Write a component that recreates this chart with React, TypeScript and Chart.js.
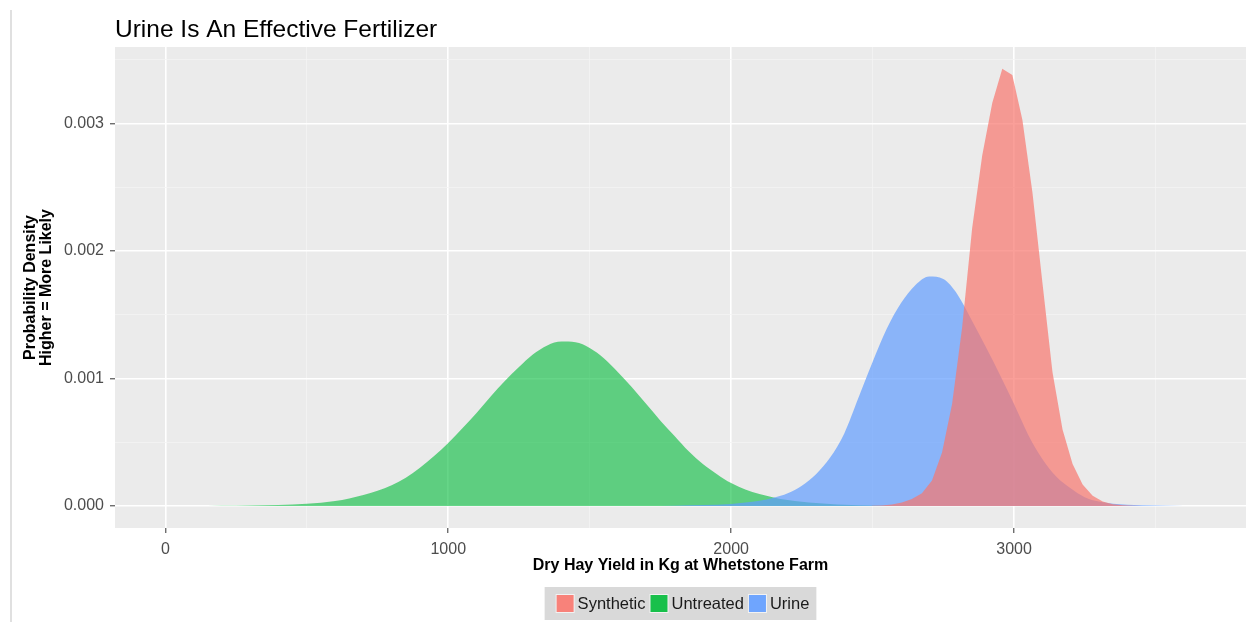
import React, { useEffect, useRef } from 'react';
import { Chart, registerables } from 'chart.js';

Chart.register(...registerables);

const chartTitle = 'Urine Is An Effective Fertilizer';
const xAxisTitle = 'Dry Hay Yield in Kg at Whetstone Farm';
const yAxisTitle = ['Probability Density', 'Higher = More Likely'];
const seriesNames = ['Synthetic', 'Untreated', 'Urine'];
const seriesColors = ['#F8766D', '#00BA38', '#619CFF'];

const xGridValues = [0, 500, 1000, 1500, 2000, 2500, 3000, 3500];
const xTickValues = [0, 1000, 2000, 3000];
const xTickLabels = ['0', '1000', '2000', '3000'];
const yGridValues = [0, 0.0005, 0.001, 0.0015, 0.002, 0.0025, 0.003, 0.0035];
const yTickValues = [0, 0.001, 0.002, 0.003];
const yTickLabels = ['0.000', '0.001', '0.002', '0.003'];

const syntheticX = [2497, 2532.5, 2568, 2603.5, 2639, 2674.5, 2710, 2745.5, 2781, 2816.5, 2852, 2887.5, 2923, 2958.5, 2994, 3029.5, 3065, 3100.5, 3136, 3171.5, 3207, 3242.5, 3278, 3313.5, 3349, 3384.5, 3420, 3455.5];
const syntheticY = [0.000002, 0.000005, 0.000012, 0.000028, 0.000055, 0.0001, 0.0002, 0.00042, 0.0008, 0.0014, 0.00218, 0.00275, 0.00316, 0.00343, 0.00338, 0.00303, 0.00246, 0.00175, 0.00105, 0.0006, 0.00033, 0.00017, 0.00008, 0.000035, 0.000015, 0.000006, 0.000002, 0];

const untreatedX = [100, 200, 300, 400, 500, 600, 650, 700, 750, 800, 850, 900, 950, 1000, 1050, 1100, 1150, 1200, 1250, 1300, 1350, 1400, 1450, 1500, 1550, 1600, 1650, 1700, 1750, 1800, 1850, 1900, 1950, 2000, 2050, 2100, 2150, 2200, 2250, 2300, 2350, 2400, 2500, 2600, 2700];
const untreatedY = [0, 0.000002, 0.000004, 0.000008, 0.000018, 0.00004, 0.00006, 0.000087, 0.00012, 0.000163, 0.000223, 0.0003, 0.000392, 0.000495, 0.00061, 0.00073, 0.00086, 0.00098, 0.00109, 0.00119, 0.00126, 0.00129, 0.001285, 0.00124, 0.00116, 0.00105, 0.00093, 0.0008, 0.00067, 0.00055, 0.00043, 0.00033, 0.00025, 0.00018, 0.00013, 0.000095, 0.000068, 0.000048, 0.000034, 0.000024, 0.000017, 0.000011, 0.000005, 0.000002, 0];

const urineX = [1700, 1800, 1900, 2000, 2050, 2100, 2150, 2200, 2250, 2300, 2350, 2400, 2450, 2500, 2550, 2600, 2650, 2700, 2750, 2800, 2850, 2900, 2950, 3000, 3050, 3100, 3150, 3200, 3250, 3300, 3350, 3400, 3500, 3600, 3700];
const urineY = [0, 0.000003, 0.000008, 0.000017, 0.000027, 0.000042, 0.000065, 0.0001, 0.00016, 0.00025, 0.00038, 0.00057, 0.00085, 0.00113, 0.00139, 0.00159, 0.00173, 0.0018, 0.00178, 0.00166, 0.00146, 0.00125, 0.00103, 0.0008, 0.00056, 0.00037, 0.00023, 0.00014, 0.00007, 0.000035, 0.000018, 0.00001, 0.000004, 0.000001, 0];

const xMin = -178;
const xMax = 3820;
const yMin = -0.000172;
const yMax = 0.0036;

const FONT = '"Liberation Sans", Arial, Helvetica, sans-serif';

function rgba(hex: string, a: number) {
  const n = parseInt(hex.slice(1), 16);
  return `rgba(${(n >> 16) & 255},${(n >> 8) & 255},${n & 255},${a})`;
}

function majorIndex(values: number[], v: number, tol: number) {
  return values.findIndex((t) => Math.abs(t - v) < tol);
}

const decorPlugin = {
  id: 'decor',
  beforeDraw(chart: any) {
    const { ctx, chartArea: a } = chart;
    ctx.save();
    ctx.fillStyle = '#FFFFFF';
    ctx.fillRect(0, 0, chart.width, chart.height);
    ctx.fillStyle = '#EBEBEB';
    ctx.fillRect(a.left, a.top, a.right - a.left, a.bottom - a.top);
    ctx.strokeStyle = '#D6D6D6';
    ctx.lineWidth = 1.5;
    ctx.beginPath();
    ctx.moveTo(11, 10);
    ctx.lineTo(11, chart.height);
    ctx.stroke();
    ctx.restore();
  },
  afterDraw(chart: any) {
    const { ctx, chartArea: a } = chart;
    const cx = (a.left + a.right) / 2;
    const cy = (a.top + a.bottom) / 2;
    ctx.save();
    ctx.fillStyle = '#000000';
    ctx.font = `24.5px ${FONT}`;
    ctx.textAlign = 'left';
    ctx.textBaseline = 'alphabetic';
    ctx.fillText(chartTitle, a.left, 37);
    ctx.font = `bold 16px ${FONT}`;
    ctx.textAlign = 'center';
    ctx.textBaseline = 'middle';
    ctx.fillText(xAxisTitle, cx, 566);
    ctx.save();
    ctx.translate(31, cy);
    ctx.rotate(-Math.PI / 2);
    ctx.fillText(yAxisTitle[0], 0, 0);
    ctx.fillText(yAxisTitle[1], 0, 16);
    ctx.restore();
    ctx.font = `16.5px ${FONT}`;
    const widths = seriesNames.map((n) => ctx.measureText(n).width);
    const key = 19, gapK = 3, gapT = 4, padL = 11, padR = 7;
    let total = padL + padR;
    widths.forEach((w, i) => { total += key + gapK + w + (i < widths.length - 1 ? gapT : 0); });
    const boxTop = 587, boxH = 33;
    let x = cx - total / 2;
    ctx.fillStyle = '#D9D9D9';
    ctx.fillRect(x, boxTop, total, boxH);
    x += padL;
    const keyTop = boxTop + (boxH - key) / 2;
    ctx.textAlign = 'left';
    ctx.textBaseline = 'middle';
    seriesNames.forEach((name, i) => {
      ctx.fillStyle = '#F2F2F2';
      ctx.fillRect(x, keyTop, key, key);
      ctx.fillStyle = rgba(seriesColors[i], 0.9);
      ctx.fillRect(x + 1, keyTop + 1, key - 2, key - 2);
      x += key + gapK;
      ctx.fillStyle = '#1A1A1A';
      ctx.fillText(name, x, boxTop + boxH / 2 + 1);
      x += widths[i] + gapT;
    });
    ctx.restore();
  },
};

export default function App() {
  const ref = useRef<HTMLCanvasElement | null>(null);
  useEffect(() => {
    document.body.style.margin = '0';
    const canvas = ref.current;
    if (!canvas) return;
    const mk = (xs: number[], ys: number[]) => xs.map((x, i) => ({ x, y: ys[i] }));
    const chart = new Chart(canvas, {
      type: 'line',
      data: {
        datasets: [
          {
            label: seriesNames[0],
            data: mk(syntheticX, syntheticY),
            backgroundColor: rgba(seriesColors[0], 0.7),
            borderWidth: 0,
            pointRadius: 0,
            fill: 'origin',
            tension: 0,
            order: 0,
          },
          {
            label: seriesNames[1],
            data: mk(untreatedX, untreatedY),
            backgroundColor: rgba(seriesColors[1], 0.6),
            borderWidth: 0,
            pointRadius: 0,
            fill: 'origin',
            cubicInterpolationMode: 'monotone',
            order: 2,
          },
          {
            label: seriesNames[2],
            data: mk(urineX, urineY),
            backgroundColor: rgba(seriesColors[2], 0.7),
            borderWidth: 0,
            pointRadius: 0,
            fill: 'origin',
            cubicInterpolationMode: 'monotone',
            order: 1,
          },
        ],
      },
      options: {
        responsive: false,
        animation: false,
        devicePixelRatio: 1,
        layout: { padding: { top: 47, left: 0, right: -7, bottom: 0 } },
        plugins: {
          legend: { display: false },
          title: { display: false },
          tooltip: { enabled: false },
        },
        scales: {
          x: {
            type: 'linear',
            min: xMin,
            max: xMax,
            border: { display: false },
            afterFit: (s: any) => { s.height = 94; },
            afterBuildTicks: (s: any) => { s.ticks = xGridValues.map((v) => ({ value: v })); },
            grid: {
              color: (c: any) => (majorIndex(xTickValues, c.tick?.value, 1e-6) >= 0 ? '#FFFFFF' : '#F4F4F4'),
              lineWidth: (c: any) => (majorIndex(xTickValues, c.tick?.value, 1e-6) >= 0 ? 1.6 : 0.8),
              tickColor: (c: any) => (majorIndex(xTickValues, c.tick?.value, 1e-6) >= 0 ? '#333333' : 'rgba(0,0,0,0)'),
              tickLength: 5,
              tickWidth: 1,
            },
            ticks: {
              autoSkip: false,
              maxRotation: 0,
              padding: 7,
              color: '#4D4D4D',
              font: { family: FONT, size: 16 },
              callback: (v: any) => {
                const i = majorIndex(xTickValues, Number(v), 1e-6);
                return i >= 0 ? xTickLabels[i] : '';
              },
            },
          },
          y: {
            type: 'linear',
            min: yMin,
            max: yMax,
            border: { display: false },
            afterFit: (s: any) => { s.width = 115; },
            afterBuildTicks: (s: any) => { s.ticks = yGridValues.map((v) => ({ value: v })); },
            grid: {
              color: (c: any) => (majorIndex(yTickValues, c.tick?.value, 1e-9) >= 0 ? '#FFFFFF' : '#F4F4F4'),
              lineWidth: (c: any) => (majorIndex(yTickValues, c.tick?.value, 1e-9) >= 0 ? 1.6 : 0.8),
              tickColor: (c: any) => (majorIndex(yTickValues, c.tick?.value, 1e-9) >= 0 ? '#333333' : 'rgba(0,0,0,0)'),
              tickLength: 5,
              tickWidth: 1,
            },
            ticks: {
              autoSkip: false,
              padding: 6,
              color: '#4D4D4D',
              font: { family: FONT, size: 16 },
              callback: (v: any) => {
                const i = majorIndex(yTickValues, Number(v), 1e-9);
                return i >= 0 ? yTickLabels[i] : '';
              },
            },
          },
        },
      },
      plugins: [decorPlugin],
    } as any);
    return () => chart.destroy();
  }, []);
  return (
    <canvas
      ref={ref}
      width={1246}
      height={622}
      style={{ display: 'block', width: 1246, height: 622 }}
    />
  );
}
